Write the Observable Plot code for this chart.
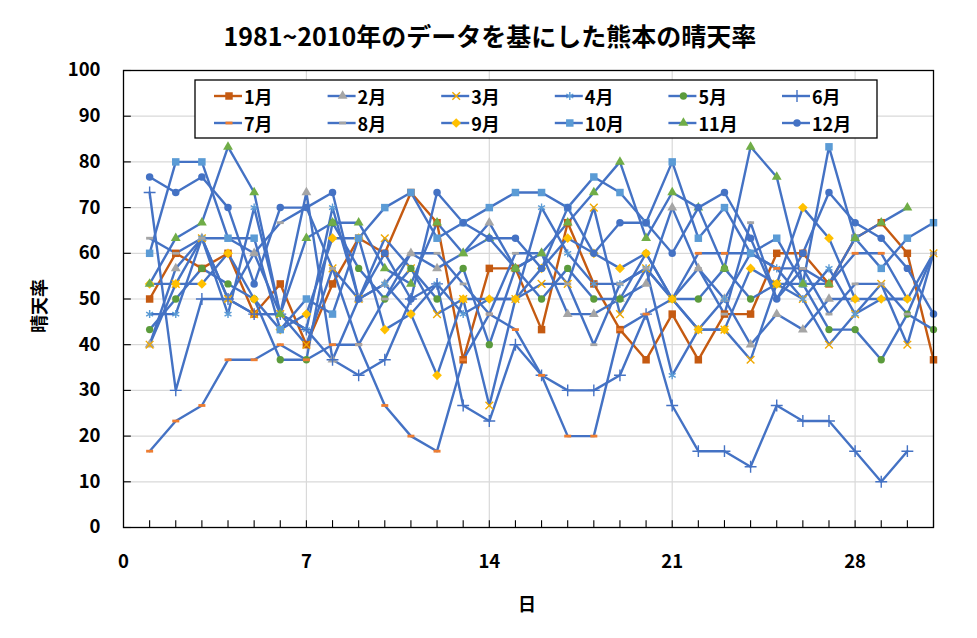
<!DOCTYPE html>
<html>
<head>
<meta charset="utf-8">
<script src="https://cdn.jsdelivr.net/npm/d3@7"></script>
<script src="https://cdn.jsdelivr.net/npm/@observablehq/plot@0.6"></script>
<style>
  body { margin: 0; background: #fff; }
  #wrap { position: relative; width: 977px; height: 638px; font-family: "Noto Sans CJK JP", "Noto Sans", sans-serif; }
  #title { position: absolute; left: 0; top: 17px; width: 980px; text-align: center; font-size: 25px; font-weight: bold; color: #000; }
</style>
</head>
<body>
<div id="wrap"><div id="title">1981~2010年のデータを基にした熊本の晴天率</div></div>
<script>
const monthNames = ["1月","2月","3月","4月","5月","6月","7月","8月","9月","10月","11月","12月"];
const xTicks = [0, 7, 14, 21, 28];
const yTicks = [0, 10, 20, 30, 40, 50, 60, 70, 80, 90, 100];
const days = d3.range(1, 32);

const m1 = [50,60,56.7,60,46.7,53.3,40,53.3,63.3,60,73.3,66.7,36.7,56.7,56.7,43.3,66.7,53.3,43.3,36.7,46.7,36.7,46.7,46.7,60,60,53.3,63.3,66.7,60,36.7];
const m2 = [40,56.7,63.3,50,60,46.7,73.3,36.7,50,53.3,60,56.7,60,66.7,56.7,60,46.7,46.7,50,53.3,70,56.7,50,40,46.7,43.3,50,50];
const m3 = [40,53.3,63.3,50,46.7,46.7,40,56.7,50,63.3,56.7,46.7,50,26.7,50,53.3,53.3,70,46.7,56.7,50,43.3,43.3,36.7,53.3,50,40,46.7,53.3,40,60];
const m4 = [46.7,46.7,63.3,46.7,70,46.7,43.3,70,50,53.3,46.7,53.3,46.7,50,50,70,60,53.3,53.3,56.7,33.3,43.3,50,60,56.7,50,56.7,46.7,50,50];
const m5 = [43.3,50,56.7,53.3,50,36.7,36.7,66.7,56.7,50,56.7,50,56.7,40,56.7,50,56.7,50,50,60,50,50,56.7,50,53.3,53.3,43.3,43.3,36.7,46.7,43.3];
const m6 = [73.3,30,50,50,46.7,46.7,43.3,36.7,33.3,36.7,50,53.3,26.7,23.3,40,33.3,30,30,33.3,46.7,26.7,16.7,16.7,13.3,26.7,23.3,23.3,16.7,10,16.7];
const m7 = [16.7,23.3,26.7,36.7,36.7,40,36.7,40,40,26.7,20,16.7,36.7,46.7,43.3,33.3,20,20,43.3,46.7,50,60,60,60,56.7,56.7,53.3,60,60,50,60];
const m8 = [63.3,60,63.3,63.3,60,66.7,70,56.7,40,50,60,60,53.3,46.7,60,60,53.3,40,53.3,56.7,50,56.7,46.7,66.7,50,56.7,46.7,53.3,53.3,46.7,60];
const m9 = [53.3,53.3,53.3,60,50,43.3,46.7,63.3,63.3,43.3,46.7,33.3,50,50,50,56.7,63.3,60,56.7,60,50,43.3,43.3,56.7,53.3,70,63.3,50,50,50];
const m10 = [60,80,80,63.3,63.3,43.3,50,46.7,63.3,70,73.3,63.3,66.7,70,73.3,73.3,70,76.7,73.3,66.7,80,63.3,70,60,63.3,53.3,83.3,63.3,56.7,63.3,66.7];
const m11 = [53.3,63.3,66.7,83.3,73.3,46.7,63.3,66.7,66.7,56.7,53.3,66.7,60,63.3,56.7,60,66.7,73.3,80,63.3,73.3,70,56.7,83.3,76.7,53.3,53.3,63.3,66.7,70];
const m12 = [76.7,73.3,76.7,70,53.3,70,70,73.3,50,60,50,73.3,66.7,63.3,63.3,56.7,70,60,66.7,66.7,60,70,73.3,63.3,50,60,73.3,66.7,63.3,56.7,46.7];
const seriesValues = [m1,m2,m3,m4,m5,m6,m7,m8,m9,m10,m11,m12];

// styling
const BLUE = "#4472C4";
const lineColors = ["#C55A11", BLUE, BLUE, BLUE, BLUE, BLUE, BLUE, BLUE, BLUE, BLUE, BLUE, BLUE];
const markerColors = ["#C55A11","#A5A5A5","#F0A800","#5B9BD5","#5B9B3C","#4472C4","#ED7D31","#A5A5A5","#FFC000","#5B9BD5","#70AD47","#4472C4"];
const dash = { draw(ctx, size) { ctx.moveTo(-3.5, -1.4); ctx.lineTo(3.5, -1.4); ctx.lineTo(3.5, 1.4); ctx.lineTo(-3.5, 1.4); ctx.closePath(); } };
const markerSymbols = [d3.symbolSquare, d3.symbolTriangle, d3.symbolTimes, d3.symbolAsterisk, d3.symbolCircle, d3.symbolPlus, dash, dash, d3.symbolDiamond2, d3.symbolSquare, d3.symbolTriangle, d3.symbolCircle];
const markerSizes = [56, 42, 40, 45, 42, 48, 10, 10, 60, 56, 42, 44];
const markerFilled = [true, true, false, false, true, false, true, true, true, true, true, true];

const rows = seriesValues.flatMap((vals, i) => vals.map((v, j) => ({ m: i, day: j + 1, v })));

const marks = [
  Plot.gridY(yTicks, { stroke: "#d9d9d9", strokeOpacity: 1, strokeWidth: 1.2 }),
  Plot.gridX([7, 14, 21, 28], { stroke: "#d9d9d9", strokeOpacity: 1, strokeWidth: 1.2 }),
  Plot.ruleX(days, { y1: 0, y2: 1.5, stroke: "#000", strokeWidth: 1.1 }),
  Plot.ruleY(yTicks, { x1: 0, x2: 0.3, stroke: "#000", strokeWidth: 1.1 })
];
seriesValues.forEach((vals, i) => {
  const d = rows.filter(r => r.m === i);
  marks.push(Plot.line(d, { x: "day", y: "v", stroke: lineColors[i], strokeWidth: 2.4 }));
});
seriesValues.forEach((vals, i) => {
  const d = rows.filter(r => r.m === i);
  const r = Math.sqrt(markerSizes[i] / Math.PI);
  const opts = { x: "day", y: "v", symbol: markerSymbols[i], r };
  if (markerFilled[i]) { opts.fill = markerColors[i]; opts.stroke = "none"; }
  else { opts.stroke = markerColors[i]; opts.fill = "none"; opts.strokeWidth = 1.4; }
  marks.push(Plot.dot(d, opts));
});
marks.push(Plot.frame({ stroke: "#000", strokeWidth: 1.3 }));
marks.push(Plot.axisX(xTicks, { tickSize: 0, tickPadding: 27, label: null, fontSize: 18.5, fontWeight: "bold" }));
marks.push(Plot.axisY(yTicks, { tickSize: 0, tickPadding: 23, label: null, fontSize: 18.5, fontWeight: "bold" }));

const chart = Plot.plot({
  width: 977,
  height: 638,
  marginTop: 70,
  marginBottom: 111,
  marginLeft: 123,
  marginRight: 44,
  x: { domain: [0, 31] },
  y: { domain: [0, 100] },
  style: { fontFamily: '"Noto Sans CJK JP", "Noto Sans", sans-serif', color: "#000", background: "#fff", overflow: "visible" },
  marks
});
document.getElementById("wrap").appendChild(chart);

// axis titles and legend
const svg = d3.select(chart);
const FONT = '"Noto Sans CJK JP", "Noto Sans", sans-serif';
svg.append("text").attr("transform", "translate(38,306) rotate(-90)")
  .attr("text-anchor", "middle").attr("dominant-baseline", "central")
  .attr("font-family", FONT).attr("font-size", 18).attr("font-weight", "bold").attr("fill", "#000").text("晴天率");
svg.append("text").attr("x", 527).attr("y", 603)
  .attr("text-anchor", "middle").attr("dominant-baseline", "central")
  .attr("font-family", FONT).attr("font-size", 18).attr("font-weight", "bold").attr("fill", "#000").text("日");

const lg = svg.append("g");
lg.append("rect").attr("x", 195).attr("y", 80).attr("width", 682).attr("height", 58)
  .attr("fill", "#fff").attr("stroke", "#000").attr("stroke-width", 1.3);
monthNames.forEach((name, i) => {
  const col = i % 6, row = Math.floor(i / 6);
  const tx = 244 + col * 113.6;
  const ty = row === 0 ? 96 : 123;
  lg.append("line").attr("x1", tx - 30).attr("x2", tx - 2).attr("y1", ty).attr("y2", ty)
    .attr("stroke", lineColors[i]).attr("stroke-width", 2.4);
  const p = lg.append("path").attr("transform", `translate(${tx - 15},${ty})`)
    .attr("d", d3.symbol().type(markerSymbols[i]).size(markerSizes[i])());
  if (markerFilled[i]) p.attr("fill", markerColors[i]);
  else p.attr("fill", "none").attr("stroke", markerColors[i]).attr("stroke-width", 1.4);
  lg.append("text").attr("x", tx).attr("y", ty).attr("dominant-baseline", "central").attr("text-anchor", "start")
    .attr("font-family", FONT).attr("font-size", 18).attr("font-weight", "bold").attr("fill", "#000").text(name);
});
</script>
</body>
</html>
